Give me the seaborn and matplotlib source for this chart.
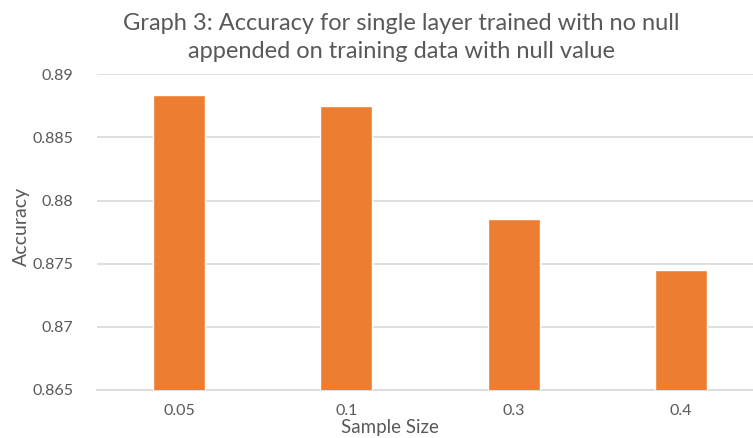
import matplotlib
matplotlib.use("Agg")
import matplotlib.pyplot as plt
import seaborn as sns
import pandas as pd

sample_sizes = ["0.05", "0.1", "0.3", "0.4"]
accuracy = [0.88838, 0.88747, 0.87852, 0.87450]
y_ticks = [0.865, 0.87, 0.875, 0.88, 0.885, 0.89]
y_tick_labels = ["0.865", "0.87", "0.875", "0.88", "0.885", "0.89"]

sns.set_theme(style="white")
plt.rcParams["font.family"] = ["Lato", "DejaVu Sans"]

text_color = "#595959"
bar_color = "#ED7D31"
grid_color = "#D9D9D9"

df = pd.DataFrame({"Sample Size": sample_sizes, "Accuracy": accuracy})

fig = plt.figure(figsize=(7.53, 4.38), dpi=100)
ax = fig.add_axes([97 / 753, (438 - 390) / 438, (753 - 97) / 753, 315.7 / 438])

sns.barplot(data=df, x="Sample Size", y="Accuracy", color=bar_color,
            width=0.31, saturation=1, ax=ax, zorder=3)

ax.set_ylim(0.865, 0.89)
ax.set_xlim(-0.49, 3.431)
ax.set_yticks(y_ticks)
ax.set_yticklabels(y_tick_labels)
ax.yaxis.grid(True, color=grid_color, linewidth=1.2, zorder=0)
ax.set_axisbelow(True)
for side in ["top", "right", "left"]:
    ax.spines[side].set_visible(False)
ax.spines["bottom"].set_color(grid_color)
ax.spines["bottom"].set_linewidth(1.2)

ax.tick_params(axis="both", length=0, labelsize=11.5, colors=text_color)
ax.tick_params(axis="y", pad=17)
ax.tick_params(axis="x", pad=10)
ax.set_xlabel("Sample Size", fontsize=13.5, color=text_color)
ax.set_ylabel("Accuracy", fontsize=14, color=text_color)
ax.xaxis.set_label_coords((390 - 97) / 656, -37 / 315.7)
ax.yaxis.set_label_coords((21 - 97) / 656, (390 - 226) / 315.7)
ax.yaxis.label.set_va("center")
ax.xaxis.label.set_va("center")

fig.text(401 / 753, 1 - 37.5 / 438, "Graph 3: Accuracy for single layer trained with no null\n"
         "appended on training data with null value",
         ha="center", va="center", multialignment="center",
         fontsize=17, color=text_color, linespacing=1.45)

fig.savefig("out.png", dpi=100, facecolor="white")
